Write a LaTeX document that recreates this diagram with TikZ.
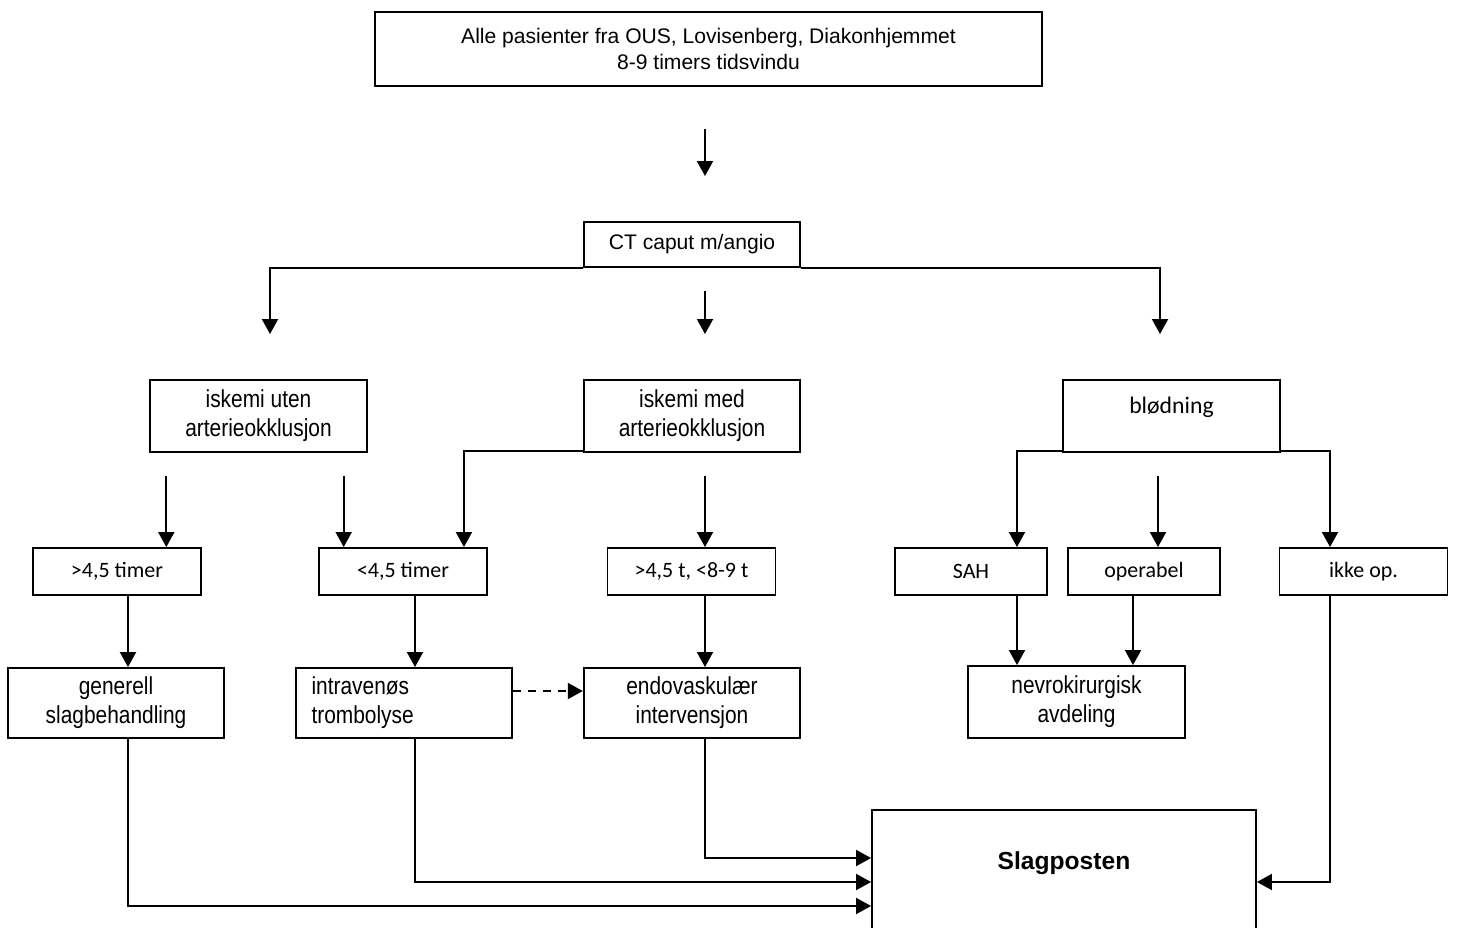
\documentclass[tikz,border=0pt]{standalone}
\usepackage{fontspec}
\setmainfont{Liberation Sans}
\newfontfamily\narrowfont[FakeStretch=0.85]{Liberation Sans}
\newfontfamily\calibfont{Carlito}
\usetikzlibrary{arrows.meta,positioning}

\begin{document}
\begin{tikzpicture}[x=0.02cm,y=-0.02cm,
  box/.style={draw,line width=1.1pt,inner sep=0pt,align=center},
  bigbox/.style={box,minimum width=4.33cm,minimum height=1.44cm,font=\narrowfont\fontsize{14}{16.5}\selectfont},
  smallbox/.style={box,minimum width=3.36cm,minimum height=0.94cm,font=\calibfont\fontsize{12.5}{14}\selectfont},
  arr/.style={line width=1.1pt,-{Triangle[length=0.3cm,width=0.32cm]}},
  dasharr/.style={arr,dash pattern=on 4.5pt off 4pt}]
\useasboundingbox (0,0) rectangle (1457,928);
\coordinate (mid) at (705,0);

% top
\node[box,minimum width=13.34cm,minimum height=1.48cm,font=\fontsize{12}{14.5}\selectfont] (top) at (708.5,49)
  {Alle pasienter fra OUS, Lovisenberg, Diakonhjemmet\\8-9 timers tidsvindu};
\node[box,minimum width=4.32cm,minimum height=0.9cm,font=\fontsize{12}{14.5}\selectfont] (ct) at (692,244.5) {CT caput m/angio};

% diagnoses
\node[bigbox] (iuten) at (258.5,416) {iskemi uten\\arterieokklusjon};
\node[bigbox] (imed) at (692,416) {iskemi med\\arterieokklusjon};
\node[bigbox,font=\calibfont\fontsize{13.5}{16}\selectfont,text height=0.3cm,text depth=0.4cm] (blod) at (1171.5,416) {blødning};

% time windows
\node[smallbox] (t1) at (117,571.5) {>4,5 timer};
\node[smallbox] (t2) at (403,571.5) {<4,5 timer};
\node[smallbox] (t3) at (691.5,571.5) {>4,5 t, <8-9 t};
\node[smallbox,minimum width=3.04cm] (sah) at (971,571.5) {SAH};
\node[smallbox,minimum width=3.04cm] (oper) at (1144,571.5) {operabel};
\node[smallbox] (ikke) at (1363.5,571.5) {ikke op.};

% treatment
\node[bigbox,minimum height=1.4cm] (gen) at (116,703) {generell\\slagbehandling};
\node[bigbox,minimum height=1.4cm,align=left,text width=3.7cm] (iv) at (404,703) {intravenøs\\trombolyse};
\node[bigbox,minimum height=1.4cm] (endo) at (692,703) {endovaskulær\\intervensjon};
\node[bigbox] (nevro) at (1076.5,702) {nevrokirurgisk\\avdeling};
\node[box,minimum width=7.68cm,minimum height=2.88cm,text depth=0.85cm,font=\bfseries\fontsize{14}{16}\selectfont] (slag) at (1064,882) {Slagposten};

% arrows
\draw[arr,shorten <=0.84cm,shorten >=0.9cm] (top.south -| mid) -- (ct.north -| mid);
\draw[arr,shorten >=0.9cm] (ct.south west) -| ([xshift=0.23cm]iuten.north);
\draw[arr,shorten <=0.46cm,shorten >=0.9cm] (ct.south -| mid) -- (imed.north -| mid);
\draw[arr,shorten >=0.9cm] (ct.south east) -| ([xshift=-0.23cm]blod.north);

\draw[arr,shorten <=0.46cm] ([xshift=0.34cm]iuten.south west) -- ([xshift=0.34cm]iuten.south west |- t1.north);
\draw[arr,shorten <=0.46cm] ([xshift=-0.48cm]iuten.south east) -- ([xshift=-0.48cm]iuten.south east |- t2.north);
\draw[arr] ([yshift=0.04cm]imed.south west) -| ([xshift=-0.48cm]t2.north east);
\draw[arr,shorten <=0.46cm] (imed.south -| mid) -- (t3.north -| mid);
\draw[arr] ([yshift=0.04cm]blod.south west) -| ([xshift=0.92cm]sah.north);
\draw[arr,shorten <=0.46cm] ([xshift=-0.27cm]blod.south) -- ([xshift=-0.27cm]blod.south |- oper.north);
\draw[arr] ([yshift=0.04cm]blod.south east) -| ([xshift=-0.67cm]ikke.north);

\draw[arr] ([xshift=0.24cm]gen.north |- t1.south) -- ([xshift=0.24cm]gen.north);
\draw[arr] ([xshift=0.22cm]iv.north |- t2.south) -- ([xshift=0.22cm]iv.north);
\draw[arr] (t3.south -| mid) -- (endo.north -| mid);
\draw[arr] ([xshift=0.92cm]sah.south) -- ([xshift=0.92cm]sah.south |- nevro.north);
\draw[arr] ([xshift=-0.22cm]oper.south) -- ([xshift=-0.22cm]oper.south |- nevro.north);
\draw[dasharr] ([yshift=0.24cm]iv.east) -- ([yshift=0.24cm]endo.west);

\draw[arr] (endo.south -| mid) |- ([yshift=0.48cm]slag.west);
\draw[arr] ([xshift=0.22cm]iv.south) |- (slag.west);
\draw[arr] ([xshift=0.24cm]gen.south) |- ([yshift=-0.48cm]slag.west);
\draw[arr] ([xshift=-0.67cm]ikke.south) |- (slag.east);
\end{tikzpicture}
\end{document}
